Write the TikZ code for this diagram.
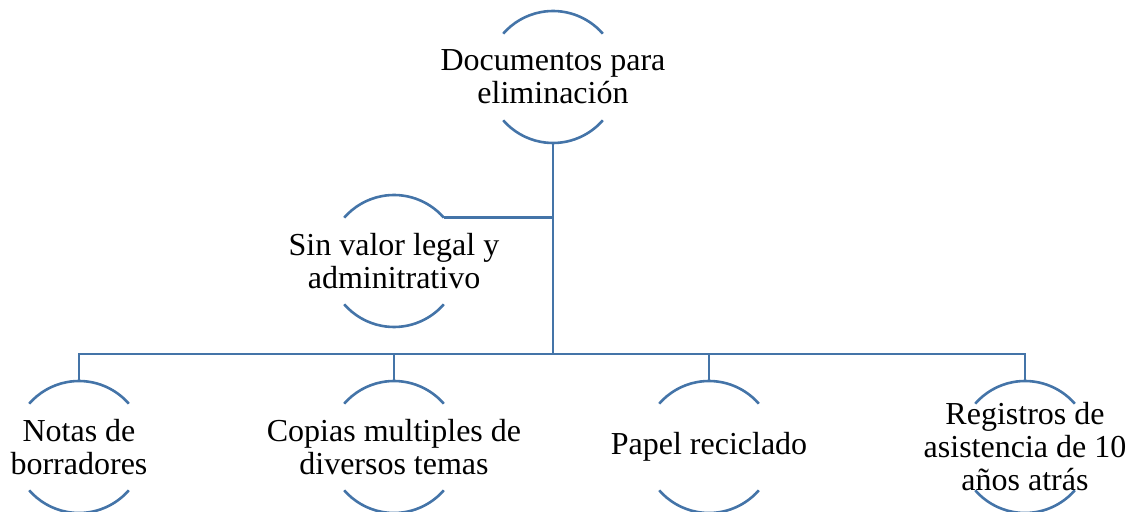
\documentclass[tikz,border=0pt]{standalone}
\usepackage{fontspec}
\setmainfont{Liberation Serif}
\newfontfamily\tnrfont{Liberation Serif}
\definecolor{linecol}{RGB}{68,116,168}
\begin{document}
\begin{tikzpicture}[x=1pt,y=1pt,
  ring/.style={circle,draw=none,minimum size=132pt,inner sep=0pt,outer sep=0pt},
  txt/.style={align=center,inner sep=0pt,font=\tnrfont\fontsize{32}{33}\selectfont,text=black},
  conn/.style={draw=linecol,line width=2.6pt},
  arcs/.style={draw=linecol,line width=2.6pt}]
\useasboundingbox (0,0) rectangle (1134,511);
% rings
\node[ring] (top) at (553,434) {};
\node[ring] (side) at (394,250) {};
\node[ring] (n1) at (79,64) {};
\node[ring] (n2) at (394,64) {};
\node[ring] (n3) at (709,64) {};
\node[ring] (n4) at (1025,64) {};
% arcs
\foreach \n in {top,side,n1,n2,n3,n4}{
  \draw[arcs] (\n.41) arc[start angle=41,end angle=139,radius=66pt];
  \draw[arcs] (\n.-41) arc[start angle=-41,end angle=-139,radius=66pt];
}
% texts
\node[txt] (ttop) at (top) {Documentos para\\eliminación};
\node[txt] (tside) at (side) {Sin valor legal y\\adminitrativo};
\node[txt] (t1) at (n1) {Notas de\\borradores};
\node[txt] (t2) at (n2) {Copias multiples de\\diversos temas};
\node[txt] (t3) at (n3) {Papel reciclado};
\node[txt] (t4) at (n4) {Registros de\\asistencia de 10\\años atrás};
% connectors
\coordinate (bus) at (553,157);
\draw[conn] (top.south) -- (bus);
\draw[conn] (side.41) -- (side.41 -| bus);
\draw[conn] (n1.north) |- (bus) -| (n4.north);
\draw[conn] (n2.north) -- (n2.north |- bus);
\draw[conn] (n3.north) -- (n3.north |- bus);
\end{tikzpicture}
\end{document}
